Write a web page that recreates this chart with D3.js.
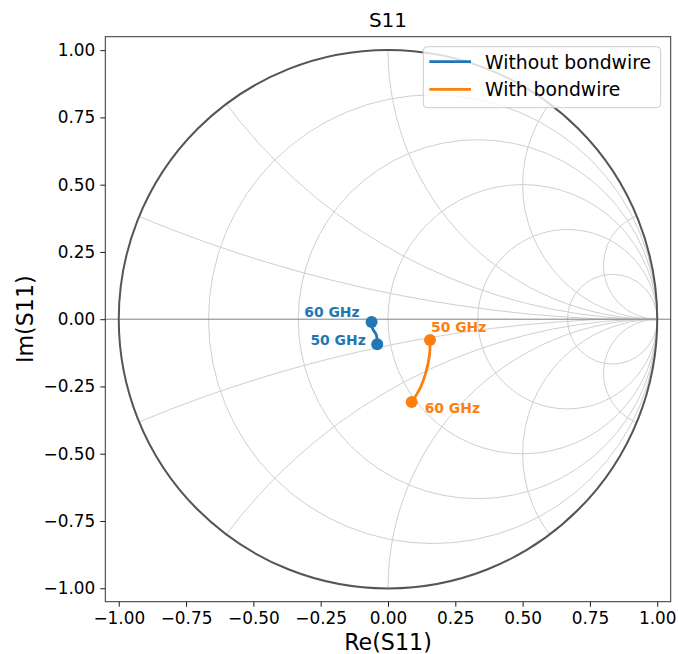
<!DOCTYPE html>
<html>
<head>
<meta charset="utf-8">
<script src="https://cdn.jsdelivr.net/npm/d3@7"></script>
<style>
  body { margin: 0; background: #fff; }
  svg { display: block; font-family: "DejaVu Sans", sans-serif; }
</style>
</head>
<body>
<div id="chart"></div>
<script>
// Sweep frequencies (GHz) and measured reflection coefficient S11 (real, imag)
const freqs = [50, 52, 54, 56, 58, 60];
const noBondRe = [-0.040, -0.041, -0.045, -0.056, -0.060, -0.061];
const noBondIm = [-0.093, -0.070, -0.054, -0.038, -0.024, -0.010];
const bondRe = [0.156, 0.154, 0.140, 0.121, 0.103, 0.088];
const bondIm = [-0.077, -0.135, -0.200, -0.253, -0.285, -0.308];

const seriesNames = ["Without bondwire", "With bondwire"];
const seriesColors = ["#1f77b4", "#ff7f0e"];

// Smith chart grid: constant-resistance circles and constant-reactance arcs
const rGrid = [0.2, 0.5, 1, 2, 5];
const xGrid = [0.2, 0.5, 1, 2, 5, -0.2, -0.5, -1, -2, -5];
const tickVals = [-1.0, -0.75, -0.5, -0.25, 0, 0.25, 0.5, 0.75, 1.0];

const W = 678, H = 654;
const plot = { left: 105.3, right: 670.7, top: 36.7, bottom: 601.7 };

const svg = d3.select("#chart").append("svg").attr("width", W).attr("height", H);

const x = d3.scaleLinear().domain([-1.05, 1.05]).range([plot.left, plot.right]);
const y = d3.scaleLinear().domain([-1.05, 1.05]).range([plot.bottom, plot.top]);
const unit = d => x(d) - x(0);

const fmt = v => d3.format(".2f")(v).replace("-", "\u2212");

// clip region: unit circle
svg.append("defs").append("clipPath").attr("id", "unitClip")
  .append("circle").attr("cx", x(0)).attr("cy", y(0)).attr("r", unit(1));

const grid = svg.append("g").attr("clip-path", "url(#unitClip)")
  .attr("fill", "none").attr("stroke", "#cfcfcf").attr("stroke-width", 1);

grid.selectAll("circle.r").data(rGrid).join("circle").attr("class", "r")
  .attr("cx", r => x(r / (1 + r))).attr("cy", y(0)).attr("r", r => unit(1 / (1 + r)));

grid.selectAll("circle.xr").data(xGrid).join("circle").attr("class", "xr")
  .attr("cx", x(1)).attr("cy", v => y(1 / v)).attr("r", v => unit(Math.abs(1 / v)));

// real axis line
svg.append("line")
  .attr("x1", plot.left).attr("x2", plot.right)
  .attr("y1", y(0)).attr("y2", y(0))
  .attr("stroke", "#808080").attr("stroke-width", 1);

// outer |S11| = 1 circle
svg.append("circle").attr("cx", x(0)).attr("cy", y(0)).attr("r", unit(1))
  .attr("fill", "none").attr("stroke", "#555").attr("stroke-width", 2);

// axes
const xAxis = d3.axisBottom(x).tickValues(tickVals).tickFormat(fmt).tickSize(5).tickPadding(5);
const yAxis = d3.axisLeft(y).tickValues(tickVals).tickFormat(fmt).tickSize(5).tickPadding(5);

const gx = svg.append("g").attr("transform", `translate(0,${plot.bottom})`).call(xAxis);
const gy = svg.append("g").attr("transform", `translate(${plot.left},0)`).call(yAxis);
[gx, gy].forEach(g => {
  g.select(".domain").remove();
  g.selectAll("text").attr("font-size", 16.9).attr("fill", "#000").attr("font-family", "DejaVu Sans");
  g.selectAll("line").attr("stroke", "#000").attr("stroke-width", 0.9);
});

// frame
svg.append("rect")
  .attr("x", plot.left).attr("y", plot.top)
  .attr("width", plot.right - plot.left).attr("height", plot.bottom - plot.top)
  .attr("fill", "none").attr("stroke", "#333").attr("stroke-width", 1);

// data traces
const series = [
  { re: noBondRe, im: noBondIm, color: seriesColors[0] },
  { re: bondRe, im: bondIm, color: seriesColors[1] }
];
const line = d3.line().x(d => x(d[0])).y(d => y(d[1])).curve(d3.curveCatmullRom);

series.forEach(s => {
  const pts = freqs.map((f, i) => [s.re[i], s.im[i], f]);
  svg.append("path").datum(pts).attr("d", line)
    .attr("fill", "none").attr("stroke", s.color).attr("stroke-width", 2.8)
    .attr("stroke-linejoin", "round").attr("stroke-linecap", "round");
  const ends = [pts[0], pts[pts.length - 1]];
  svg.selectAll(null).data(ends).join("circle")
    .attr("cx", d => x(d[0])).attr("cy", d => y(d[1])).attr("r", 6)
    .attr("fill", s.color);
  s.pts = pts;
});

// endpoint frequency annotations
const annot = [
  { s: 0, idx: 5, dx: -12, dy: -5, anchor: "end" },
  { s: 0, idx: 0, dx: -11.5, dy: 1, anchor: "end" },
  { s: 1, idx: 0, dx: 1, dy: -8, anchor: "start" },
  { s: 1, idx: 5, dx: 13, dy: 11, anchor: "start" }
];
annot.forEach(a => {
  const p = series[a.s].pts[a.idx];
  svg.append("text")
    .attr("x", x(p[0]) + a.dx).attr("y", y(p[1]) + a.dy)
    .attr("text-anchor", a.anchor)
    .attr("font-size", 13.9).attr("font-weight", "bold")
    .attr("fill", seriesColors[a.s])
    .text(`${p[2]} GHz`);
});

// title and axis labels
svg.append("text").attr("x", (plot.left + plot.right) / 2).attr("y", 27.3)
  .attr("text-anchor", "middle").attr("font-size", 20).attr("fill", "#000").text("S11");
svg.append("text").attr("x", (plot.left + plot.right) / 2).attr("y", 650)
  .attr("text-anchor", "middle").attr("font-size", 22.2).attr("fill", "#000").text("Re(S11)");
svg.append("text")
  .attr("transform", `translate(33,${(plot.top + plot.bottom) / 2}) rotate(-90)`)
  .attr("text-anchor", "middle").attr("font-size", 22.2).attr("fill", "#000").text("Im(S11)");

// legend
const lg = svg.append("g");
lg.append("rect").attr("x", 423.3).attr("y", 46.7).attr("width", 237.4).attr("height", 61)
  .attr("rx", 4).attr("fill", "#fff").attr("fill-opacity", 0.8)
  .attr("stroke", "#cccccc").attr("stroke-width", 1);
seriesNames.forEach((name, i) => {
  const cy = 61.7 + i * 27.6;
  lg.append("line").attr("x1", 429.3).attr("x2", 471).attr("y1", cy).attr("y2", cy)
    .attr("stroke", seriesColors[i]).attr("stroke-width", 2.8);
  lg.append("text").attr("x", 485).attr("y", cy + 7)
    .attr("font-size", 18.8).attr("fill", "#000").text(name);
});
</script>
</body>
</html>
